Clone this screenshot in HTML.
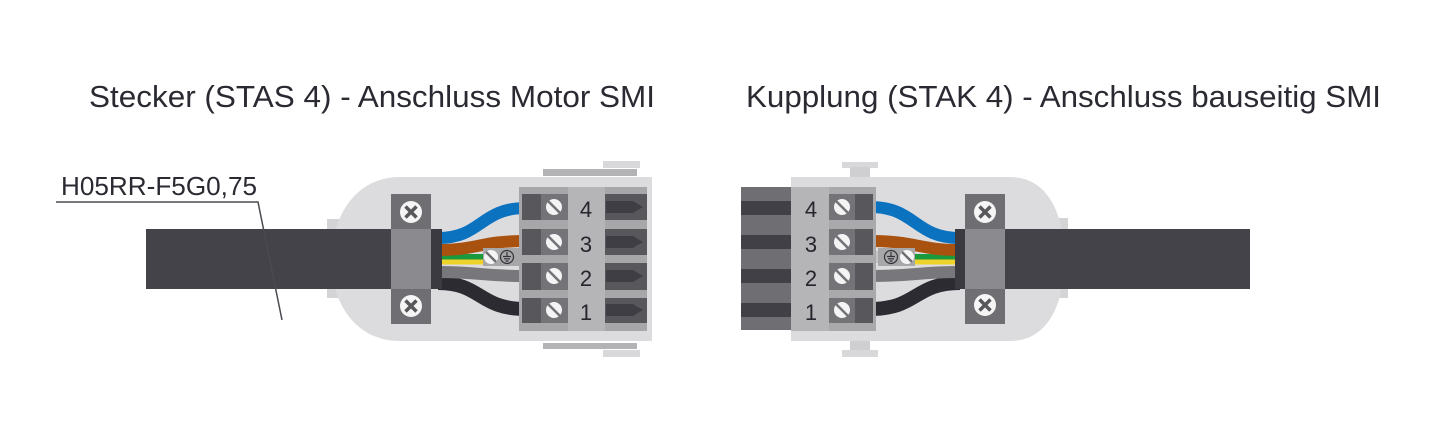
<!DOCTYPE html>
<html><head><meta charset="utf-8"><style>
html,body{margin:0;padding:0;background:#fff;width:1438px;height:440px;overflow:hidden}
svg{display:block}
text{font-family:"Liberation Sans",Arial,sans-serif}
</style></head><body>
<svg width="1438" height="440" viewBox="0 0 1438 440" xmlns="http://www.w3.org/2000/svg">
<rect width="1438" height="440" fill="#fff"/>
<!-- Titles -->
<text x="89" y="107" font-size="31" fill="#2a2a32" textLength="566" lengthAdjust="spacingAndGlyphs">Stecker (STAS 4) - Anschluss Motor SMI</text>
<text x="746" y="107" font-size="31" fill="#2a2a32" textLength="635" lengthAdjust="spacingAndGlyphs">Kupplung (STAK 4) - Anschluss bauseitig SMI</text>

<!-- ============ LEFT CONNECTOR ============ -->
<!-- back tab -->
<rect x="327" y="219" width="12" height="79" fill="#d4d4d6"/>
<!-- top/bottom tabs -->
<rect x="603" y="161" width="37" height="7" fill="#d8d8da"/>
<rect x="543" y="169" width="94" height="7" fill="#b3b3b5"/>
<rect x="543" y="343" width="94" height="6" fill="#b3b3b5"/>
<rect x="603" y="350" width="37" height="7" fill="#d8d8da"/>
<!-- housing -->
<path d="M652 177 L400 177 C362 177 342 205 335 232 L335 288 C342 314 362 341 400 341 L652 341 Z" fill="#dcdcde"/>
<!-- cable -->
<rect x="146" y="229" width="250" height="60" fill="#434349"/>
<!-- wires -->
<path d="M438 283 C482 283 478 309 526 309" stroke="#2b2b31" stroke-width="14" fill="none"/>
<path d="M438 272 C480 272 480 276 526 276" stroke="#78787c" stroke-width="12" fill="none"/>
<rect x="438" y="254" width="48" height="5.5" fill="#1a9a3c"/>
<rect x="438" y="259.5" width="48" height="5" fill="#eed32a"/>
<path d="M438 250 C478 250 480 241 526 241" stroke="#a9520f" stroke-width="12" fill="none"/>
<path d="M438 238 C482 238 480 208 526 208" stroke="#0b72c0" stroke-width="12" fill="none"/>
<!-- earth terminal -->
<rect x="483" y="248" width="36" height="18" fill="#a7a7a9"/>
<rect x="519" y="251" width="5" height="12" fill="#c4c4c6"/>
<circle cx="491" cy="257" r="7" fill="#f4f4f4"/>
<line x1="486" y1="252" x2="496" y2="262" stroke="#6c6c70" stroke-width="2.4"/>
<circle cx="507" cy="257" r="6.5" fill="none" stroke="#333338" stroke-width="1.2"/>
<line x1="507" y1="252" x2="507" y2="256" stroke="#333338" stroke-width="1.2"/>
<line x1="503" y1="256.5" x2="511" y2="256.5" stroke="#333338" stroke-width="1.2"/>
<line x1="504" y1="258.8" x2="510" y2="258.8" stroke="#333338" stroke-width="1.2"/>
<line x1="505.5" y1="261" x2="508.5" y2="261" stroke="#333338" stroke-width="1.2"/>
<!-- sleeve -->
<rect x="431" y="229" width="11" height="60" fill="#3a3a40"/>
<!-- clamp -->
<rect x="391" y="194" width="40" height="130" fill="#6f6f73"/>
<rect x="391" y="229" width="40" height="60" fill="#8b8b8f"/>
<circle cx="411" cy="212" r="11" fill="#f5f5f5"/>
<path d="M405.5 206.5 L416.5 217.5 M416.5 206.5 L405.5 217.5" stroke="#58585c" stroke-width="3.5"/>
<circle cx="411" cy="306" r="11" fill="#f5f5f5"/>
<path d="M405.5 300.5 L416.5 311.5 M416.5 300.5 L405.5 311.5" stroke="#58585c" stroke-width="3.5"/>
<!-- terminal block left -->
<rect x="519" y="187" width="128" height="144" fill="#a7a7a9"/>
<rect x="568" y="187" width="37" height="144" fill="#b5b5b7"/>
<g>
<rect x="522" y="194" width="20" height="26" fill="#58585c"/><rect x="541" y="194" width="27" height="26" fill="#747478"/><rect x="605" y="194" width="42" height="26" fill="#58585c"/>
<rect x="522" y="229" width="20" height="26" fill="#58585c"/><rect x="541" y="229" width="27" height="26" fill="#747478"/><rect x="605" y="229" width="42" height="26" fill="#58585c"/>
<rect x="522" y="263" width="20" height="27" fill="#58585c"/><rect x="541" y="263" width="27" height="27" fill="#747478"/><rect x="605" y="263" width="42" height="27" fill="#58585c"/>
<rect x="522" y="298" width="20" height="25" fill="#58585c"/><rect x="541" y="298" width="27" height="25" fill="#747478"/><rect x="605" y="298" width="42" height="25" fill="#58585c"/>
</g>
<g fill="#3e3e44">
<polygon points="606,201 633,201 643,207 633,213 606,213"/>
<polygon points="606,236 633,236 643,242 633,248 606,248"/>
<polygon points="606,270 633,270 643,276 633,282 606,282"/>
<polygon points="606,304 633,304 643,310 633,316 606,316"/>
</g>
<g>
<circle cx="554" cy="207" r="8" fill="#f4f4f4"/><circle cx="554" cy="242" r="8" fill="#f4f4f4"/><circle cx="554" cy="276" r="8" fill="#f4f4f4"/><circle cx="554" cy="310" r="8" fill="#f4f4f4"/>
</g>
<g stroke="#747478" stroke-width="2.6">
<line x1="548" y1="201" x2="560" y2="213"/><line x1="548" y1="236" x2="560" y2="248"/><line x1="548" y1="270" x2="560" y2="282"/><line x1="548" y1="304" x2="560" y2="316"/>
</g>
<g font-size="22" fill="#25252d" text-anchor="middle">
<text x="586" y="217">4</text><text x="586" y="252">3</text><text x="586" y="286">2</text><text x="586" y="320">1</text>
</g>

<!-- label -->
<text x="61" y="195" font-size="26" fill="#2a2a32" textLength="196" lengthAdjust="spacingAndGlyphs">H05RR-F5G0,75</text>
<polyline points="56,202 258,202 282,320" fill="none" stroke="#4a4a50" stroke-width="1.5"/>

<!-- ============ RIGHT CONNECTOR ============ -->
<rect x="1056" y="218" width="12" height="80" fill="#d4d4d6"/>
<rect x="842" y="162" width="36" height="6" fill="#d8d8da"/>
<rect x="850" y="167" width="20" height="11" fill="#cfcfd1"/>
<rect x="850" y="340" width="20" height="11" fill="#cfcfd1"/>
<rect x="842" y="350" width="36" height="7" fill="#d8d8da"/>
<path d="M791 177 L1010 177 C1040 177 1055 200 1061 226 L1061 292 C1055 318 1040 341 1010 341 L791 341 Z" fill="#dcdcde"/>
<!-- pin block -->
<rect x="741" y="187" width="50" height="143" fill="#6f6f73"/>
<g fill="#404046">
<rect x="741" y="201" width="50" height="14"/><rect x="741" y="235" width="50" height="14"/><rect x="741" y="269" width="50" height="14"/><rect x="741" y="303" width="50" height="14"/>
</g>
<!-- cable -->
<rect x="1000" y="229" width="250" height="60" fill="#434349"/>
<!-- wires -->
<path d="M870 309 C918 309 914 283 960 283" stroke="#2b2b31" stroke-width="14" fill="none"/>
<path d="M870 276 C916 276 916 272 960 272" stroke="#78787c" stroke-width="12" fill="none"/>
<rect x="912" y="254" width="48" height="5.5" fill="#1a9a3c"/>
<rect x="912" y="259.5" width="48" height="5" fill="#eed32a"/>
<path d="M870 241 C916 241 918 250 960 250" stroke="#a9520f" stroke-width="12" fill="none"/>
<path d="M870 207 C916 207 914 238 960 238" stroke="#0b72c0" stroke-width="12" fill="none"/>
<!-- earth terminal right -->
<rect x="873" y="251" width="5" height="12" fill="#c4c4c6"/>
<rect x="878" y="248" width="37" height="18" fill="#a7a7a9"/>
<circle cx="891" cy="257" r="6.5" fill="none" stroke="#333338" stroke-width="1.2"/>
<line x1="891" y1="252" x2="891" y2="256" stroke="#333338" stroke-width="1.2"/>
<line x1="887" y1="256.5" x2="895" y2="256.5" stroke="#333338" stroke-width="1.2"/>
<line x1="888" y1="258.8" x2="894" y2="258.8" stroke="#333338" stroke-width="1.2"/>
<line x1="889.5" y1="261" x2="892.5" y2="261" stroke="#333338" stroke-width="1.2"/>
<circle cx="907" cy="257" r="7" fill="#f4f4f4"/>
<line x1="902" y1="252" x2="912" y2="262" stroke="#6c6c70" stroke-width="2.4"/>
<!-- sleeve -->
<rect x="955" y="229" width="10" height="60" fill="#3a3a40"/>
<!-- clamp -->
<rect x="965" y="194" width="40" height="130" fill="#6f6f73"/>
<rect x="965" y="229" width="40" height="60" fill="#8b8b8f"/>
<circle cx="985" cy="212" r="11" fill="#f5f5f5"/>
<path d="M979.5 206.5 L990.5 217.5 M990.5 206.5 L979.5 217.5" stroke="#58585c" stroke-width="3.5"/>
<circle cx="985" cy="305" r="11" fill="#f5f5f5"/>
<path d="M979.5 299.5 L990.5 310.5 M990.5 299.5 L979.5 310.5" stroke="#58585c" stroke-width="3.5"/>
<!-- terminal block right -->
<rect x="791" y="187" width="85" height="144" fill="#a9a9ab"/>
<rect x="791" y="187" width="38" height="144" fill="#b5b5b7"/>
<g>
<rect x="829" y="194" width="26" height="26" fill="#747478"/><rect x="855" y="194" width="18" height="26" fill="#58585c"/>
<rect x="829" y="229" width="26" height="26" fill="#747478"/><rect x="855" y="229" width="18" height="26" fill="#58585c"/>
<rect x="829" y="263" width="26" height="27" fill="#747478"/><rect x="855" y="263" width="18" height="27" fill="#58585c"/>
<rect x="829" y="298" width="26" height="25" fill="#747478"/><rect x="855" y="298" width="18" height="25" fill="#58585c"/>
</g>
<g>
<circle cx="842" cy="207" r="8" fill="#f4f4f4"/><circle cx="842" cy="242" r="8" fill="#f4f4f4"/><circle cx="842" cy="276" r="8" fill="#f4f4f4"/><circle cx="842" cy="310" r="8" fill="#f4f4f4"/>
</g>
<g stroke="#747478" stroke-width="2.6">
<line x1="836" y1="201" x2="848" y2="213"/><line x1="836" y1="236" x2="848" y2="248"/><line x1="836" y1="270" x2="848" y2="282"/><line x1="836" y1="304" x2="848" y2="316"/>
</g>
<g font-size="22" fill="#25252d" text-anchor="middle">
<text x="811" y="217">4</text><text x="811" y="252">3</text><text x="811" y="286">2</text><text x="811" y="320">1</text>
</g>
</svg>
</body></html>
